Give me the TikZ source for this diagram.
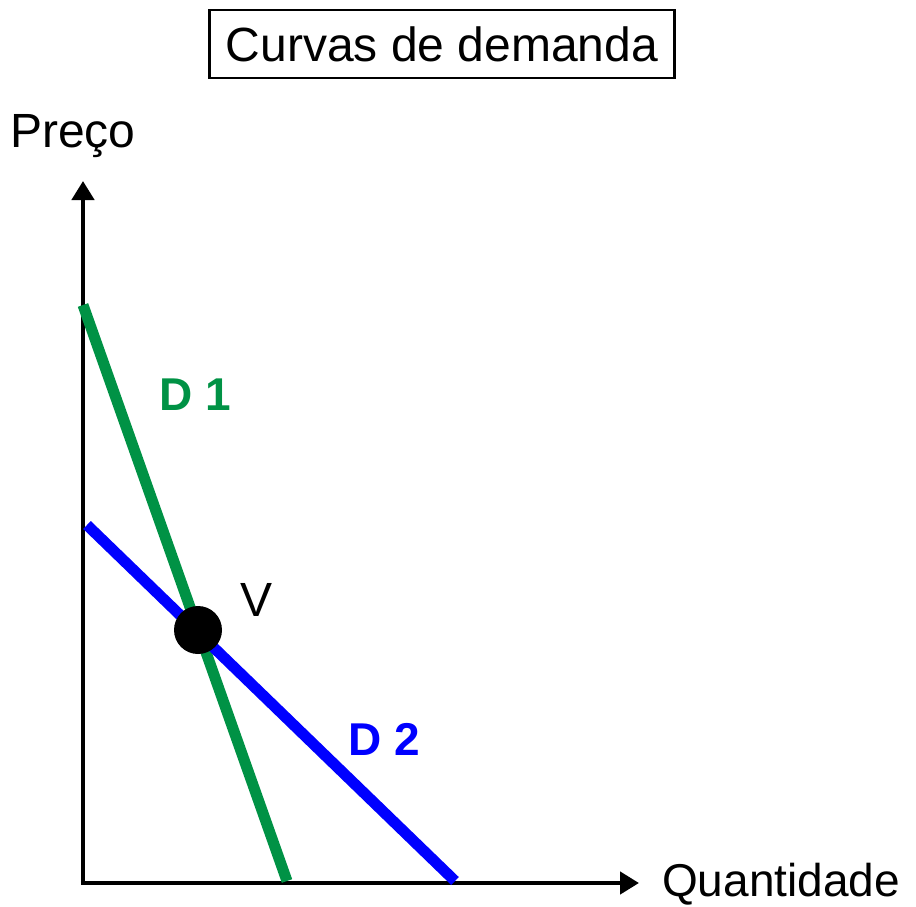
\documentclass[tikz,border=0pt]{standalone}
\usepackage{fontspec}
\setmainfont{Liberation Sans}
\usetikzlibrary{positioning, arrows.meta}

\definecolor{dgreen}{RGB}{0,146,69}
\definecolor{dblue}{RGB}{0,0,255}

\begin{document}
\begin{tikzpicture}[x=1pt, y=-1pt]
% Setup the styles
\tikzset{axis style/.style={line width=4.5pt, -{Triangle[length=19pt, width=22pt]}},
	curve style/.style={line width=11pt},
	label style/.style={font=\fontsize{48}{54}\selectfont},
	curve label/.style={font=\fontsize{46}{52}\selectfont\bfseries}}
\useasboundingbox (0,0) rectangle (916,907);

% Title
\node[draw, line width=2.2pt, minimum width=465pt, minimum height=68pt,
	label style] (title) at (442,44) {Curvas de demanda};

% Axes
\coordinate (O) at (83,883);
\coordinate (ytop) at (83,181);
\coordinate (xend) at (639,883);
\draw[axis style] ([yshift=2.25pt]O) -- (ytop);
\draw[axis style] ([xshift=-2.25pt]O) -- (xend);
\node[label style] (preco) at (73,136) {Preço};
\node[font=\fontsize{46}{52}\selectfont, anchor=west, inner sep=0pt] (quant) at (662,884) {Quantidade};

% Demand curves
\coordinate (d1a) at (83,305);
\coordinate (d1b) at (287,881);
\coordinate (d2a) at (87,525);
\coordinate (d2b) at (455,881);
\draw[curve style, draw=dgreen] (d1a) -- (d1b);
\draw[curve style, draw=dblue] (d2a) -- (d2b);
\node[curve label, text=dgreen] (D1) at (195,395) {D 1};
\node[curve label, text=dblue] (D2) at (384,739) {D 2};

% Point V
\node[circle, fill=black, minimum size=48pt, inner sep=0pt] (pV) at (198,630) {};
\node[label style] (V) at (257,600) {V};
\end{tikzpicture}
\end{document}
